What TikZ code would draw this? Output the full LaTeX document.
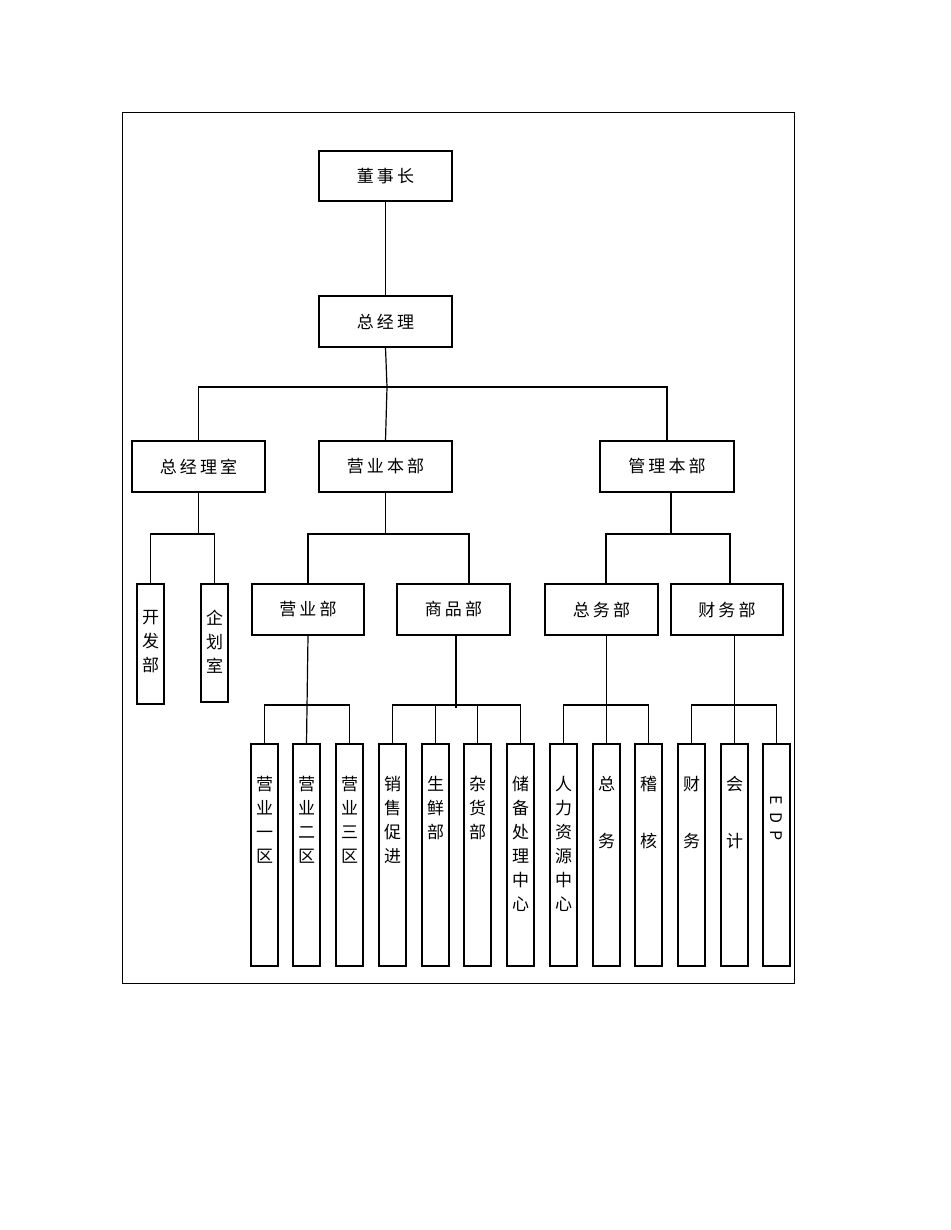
\documentclass[tikz,border=0pt]{standalone}
\usepackage{fontspec}
\setmainfont{Noto Sans CJK SC}
\newfontfamily\cjksp[LetterSpace=18]{Noto Sans CJK SC}
\begin{document}
\begin{tikzpicture}[x=1pt,y=-1pt,
  hb/.style={draw,line width=1.2pt,inner sep=0pt,font=\fontsize{17}{17}\cjksp},
  vb/.style={draw,line width=1.2pt,inner sep=0pt,minimum width=27pt},
  vt/.style={anchor=north,align=center,inner sep=0pt,font=\fontsize{17}{24}\selectfont},
  ln/.style={line width=1.2pt}]
\useasboundingbox (0,0) rectangle (950,1230);
\draw[line width=0.6pt] (122,112) rectangle (794,983);
% top boxes
\node[hb,minimum width=133pt,minimum height=50pt] (dsz) at (385.5,176) {董事长};
\node[hb,minimum width=133pt,minimum height=51pt] (zjl) at (385.5,321.5) {总经理};
\node[hb,minimum width=133pt,minimum height=51pt] (zjs) at (198.5,466.5) {总经理室};
\node[hb,minimum width=133pt,minimum height=51pt] (yyb) at (385.5,466.5) {营业本部};
\node[hb,minimum width=134pt,minimum height=51pt] (glb) at (667,466.5) {管理本部};
\node[hb,minimum width=112pt,minimum height=51pt] (yy) at (308,609.5) {营业部};
\node[hb,minimum width=113pt,minimum height=51pt] (sp) at (453.5,609.5) {商品部};
\node[hb,minimum width=113pt,minimum height=51pt] (zw) at (601.5,609.5) {总务部};
\node[hb,minimum width=112pt,minimum height=51pt] (cw) at (727,609.5) {财务部};
% small vertical boxes
\node[vb,minimum height=120pt] (kf) at (150.5,644) {};
\node[vt] at (150.5,610) {开\\发\\部};
\node[vb,minimum height=118pt] (qh) at (214.5,643) {};
\node[vt] at (214.5,610) {企\\划\\室};
% bottom boxes
\foreach \n/\x in {b1/264.5,b2/306.5,b3/349.5,b4/392.5,b5/435.5,b6/477.5,b7/520.5,b8/563.5,b9/606.5,b10/648.5,b11/691.5,b12/734.5,b13/776.5}
  \node[vb,minimum height=222pt] (\n) at (\x,855) {};
\node[vt] at (264.5,776) {营\\业\\一\\区};
\node[vt] at (306.5,776) {营\\业\\二\\区};
\node[vt] at (349.5,776) {营\\业\\三\\区};
\node[vt] at (392.5,776) {销\\售\\促\\进};
\node[vt] at (435.5,776) {生\\鲜\\部};
\node[vt] at (477.5,776) {杂\\货\\部};
\node[vt] at (520.5,776) {储\\备\\处\\理\\中\\心};
\node[vt] at (563.5,776) {人\\力\\资\\源\\中\\心};
\node[vt] at (606.5,776) {总\\[33pt]务};
\node[vt] at (648.5,776) {稽\\[33pt]核};
\node[vt] at (691.5,776) {财\\[33pt]务};
\node[vt] at (734.5,776) {会\\[33pt]计};
\node[rotate=-90,inner sep=0pt,font=\fontsize{16}{16}\selectfont] at (776.5,818) {E\ \ D\ \ P};
% connectors
\draw[ln] (dsz.south) -- (zjl.north);
\coordinate (j1) at (387,387);
\draw[ln] (zjl.south) -- (j1);
\draw[ln] (zjs.north) |- (glb.north |- j1) -- (glb.north);
\draw[ln] (j1) -- (yyb.north);
\coordinate (j2) at (198.5,534);
\draw[ln] (zjs.south) -- (j2);
\draw[ln] (kf.north) |- (qh.north |- j2) -- (qh.north);
\coordinate (j3) at (385.5,534);
\draw[ln] (yyb.south) -- (j3);
\draw[ln] (yy.north) |- (469,534) -- (469,584);
\coordinate (j4) at (671,534);
\draw[ln] (glb.south -| j4) -- (j4);
\draw[ln] (606,584) |- (730,534) -- (730,584);
% level 3
\draw[ln] (yy.south) -- (b2.north);
\draw[ln] (b1.north) |- (b3.north |- 0,705) -- (b3.north);
\draw[ln] (sp.south -| 456,0) -- (456,708);
\draw[ln] (b4.north) |- (b7.north |- 0,705) -- (b7.north);
\draw[ln] (b5.north) -- (435.5,705);
\draw[ln] (b6.north) -- (477.5,705);
\draw[ln] (zw.south -| b9.north) -- (b9.north);
\draw[ln] (b8.north) |- (b10.north |- 0,705) -- (b10.north);
\draw[ln] (cw.south -| b12.north) -- (b12.north);
\draw[ln] (b11.north) |- (b13.north |- 0,705) -- (b13.north);
\end{tikzpicture}
\end{document}
